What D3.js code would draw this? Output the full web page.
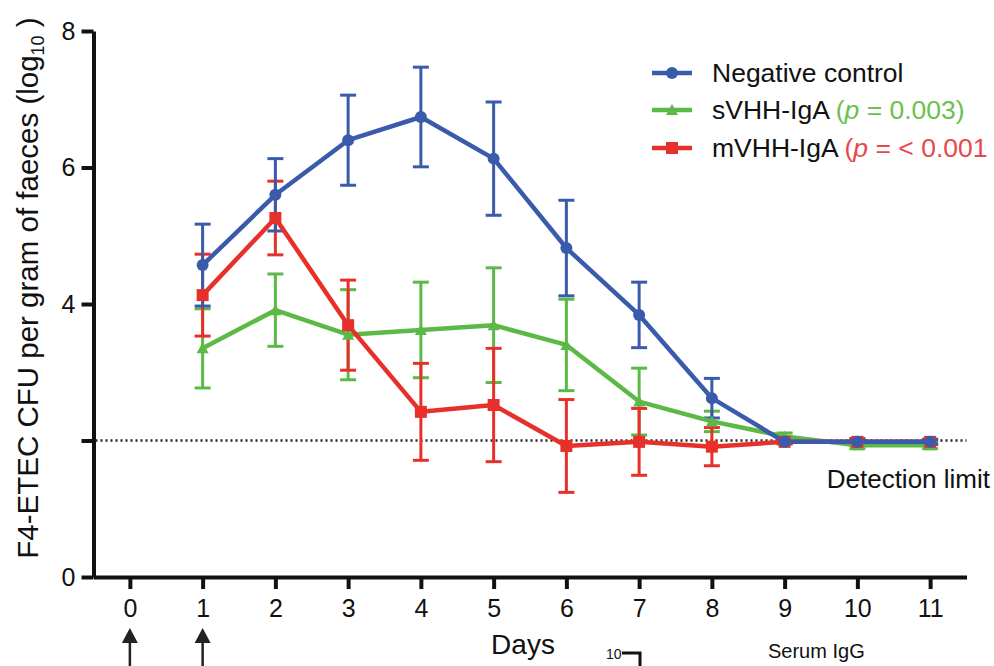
<!DOCTYPE html>
<html>
<head>
<meta charset="utf-8">
<script src="https://cdn.jsdelivr.net/npm/d3@7"></script>
<style>
  body { margin: 0; background: #fff; }
  svg { display: block; font-family: "Liberation Sans", Arial, Helvetica, sans-serif; }
</style>
</head>
<body>
<div id="chart"></div>
<script>
// days on the x axis
const days = [1, 2, 3, 4, 5, 6, 7, 8, 9, 10, 11];
const dayTicks = [0, 1, 2, 3, 4, 5, 6, 7, 8, 9, 10, 11];
const yTicks = [0, 2, 4, 6, 8];

// log10 CFU per gram, mean and error
const negMean = [4.57, 5.60, 6.40, 6.74, 6.13, 4.82, 3.84, 2.62, 1.98, 1.98, 1.98];
const negErr  = [0.60, 0.53, 0.66, 0.73, 0.83, 0.70, 0.48, 0.29, 0.02, 0.03, 0.03];
const sMean   = [3.35, 3.91, 3.55, 3.62, 3.69, 3.40, 2.57, 2.28, 2.06, 1.93, 1.93];
const sErr    = [0.58, 0.53, 0.66, 0.70, 0.84, 0.67, 0.49, 0.15, 0.05, 0.05, 0.05];
const mMean   = [4.13, 5.26, 3.69, 2.42, 2.52, 1.92, 1.98, 1.91, 1.98, 1.98, 1.98];
const mErr    = [0.60, 0.54, 0.66, 0.71, 0.83, 0.68, 0.49, 0.28, 0.03, 0.05, 0.04];

const detectionLimit = 2;

// p-value labels as printed (the red one runs into the figure edge in the source)
const series = [
  { name: "sVHH-IgA", pText: " = 0.003)", mean: sMean, err: sErr, color: "#5cb946", pColor: "#6cc04f", shape: "triangle" },
  { name: "mVHH-IgA", pText: " = < 0.001", mean: mMean, err: mErr, color: "#e8302a", pColor: "#e8474b", shape: "square" },
  { name: "Negative control", mean: negMean, err: negErr, color: "#3a5bab", shape: "circle" }
];

const W = 994, H = 666;
const svg = d3.select("#chart").append("svg").attr("width", W).attr("height", H);

const x = d3.scaleLinear().domain([-0.5, 11.5]).range([93.5, 966.5]);
const y = d3.scaleLinear().domain([0, 8]).range([577, 31]);

function styleAxis(g) {
  g.selectAll("path, line").attr("stroke", "#111").attr("stroke-width", 4);
  g.selectAll("text").attr("font-size", 25).attr("fill", "#111");
}

// axes
svg.append("g")
  .attr("transform", "translate(0,577)")
  .call(d3.axisBottom(x).tickValues(dayTicks).tickSize(12).tickSizeOuter(0).tickPadding(10))
  .call(styleAxis);

svg.append("g")
  .attr("transform", "translate(93.5,0)")
  .call(d3.axisLeft(y).tickValues(yTicks).tickSize(12).tickSizeOuter(0).tickPadding(6)
    .tickFormat(d => d === 2 ? "" : d))
  .call(styleAxis);

// detection limit
svg.append("line")
  .attr("x1", x(-0.5) + 2).attr("x2", x(11.5))
  .attr("y1", y(detectionLimit)).attr("y2", y(detectionLimit))
  .attr("stroke", "#222").attr("stroke-width", 2.5)
  .attr("stroke-dasharray", "2,3");

svg.append("text")
  .attr("x", 990).attr("y", 488)
  .attr("text-anchor", "end")
  .attr("font-size", 26)
  .attr("fill", "#111")
  .text("Detection limit");

// error bars
const capW = 8;
series.forEach(s => {
  const g = svg.append("g").attr("stroke", s.color).attr("stroke-width", 3).attr("fill", "none");
  days.forEach((d, i) => {
    const lo = y(s.mean[i] - s.err[i]), hi = y(s.mean[i] + s.err[i]);
    g.append("line").attr("x1", x(d)).attr("x2", x(d)).attr("y1", lo).attr("y2", hi);
    g.append("line").attr("x1", x(d) - capW).attr("x2", x(d) + capW).attr("y1", lo).attr("y2", lo);
    g.append("line").attr("x1", x(d) - capW).attr("x2", x(d) + capW).attr("y1", hi).attr("y2", hi);
  });
});

// lines
const line = d3.line().x(d => x(d[0])).y(d => y(d[1]));
series.forEach(s => {
  svg.append("path")
    .datum(days.map((d, i) => [d, s.mean[i]]))
    .attr("d", line)
    .attr("fill", "none")
    .attr("stroke", s.color)
    .attr("stroke-width", 4.5)
    .attr("stroke-linejoin", "round");
});

function marker(g, shape, cx, cy, color) {
  if (shape === "circle") {
    g.append("circle").attr("cx", cx).attr("cy", cy).attr("r", 6).attr("fill", color);
  } else if (shape === "square") {
    g.append("rect").attr("x", cx - 6).attr("y", cy - 6).attr("width", 12).attr("height", 12).attr("fill", color);
  } else {
    g.append("path").attr("d", `M${cx},${cy - 6}L${cx + 6},${cy + 5}L${cx - 6},${cy + 5}Z`).attr("fill", color);
  }
}

series.forEach(s => {
  const g = svg.append("g");
  days.forEach((d, i) => marker(g, s.shape, x(d), y(s.mean[i]), s.color));
});

// legend
const legendRows = [series[2], series[0], series[1]];
const legendY = [73, 110, 148];
legendRows.forEach((s, i) => {
  const ly = legendY[i];
  svg.append("line").attr("x1", 652).attr("x2", 692).attr("y1", ly).attr("y2", ly)
    .attr("stroke", s.color).attr("stroke-width", 4.5);
  marker(svg, s.shape, 672, ly, s.color);
  const t = svg.append("text").attr("x", 712).attr("y", ly + 9).attr("font-size", 26.5).attr("fill", "#111");
  t.append("tspan").text(s.name);
  if (s.pText) {
    t.append("tspan").attr("fill", s.pColor).text(" (");
    t.append("tspan").attr("fill", s.pColor).attr("font-style", "italic").text("p");
    t.append("tspan").attr("fill", s.pColor).text(s.pText);
  }
});

// axis titles
const yl = svg.append("text")
  .attr("transform", "translate(38,288) rotate(-90)")
  .attr("text-anchor", "middle")
  .attr("font-size", 29.5)
  .attr("fill", "#111");
yl.append("tspan").text("F4-ETEC CFU per gram of faeces (log");
yl.append("tspan").attr("font-size", 18).attr("dy", 6).text("10");
yl.append("tspan").attr("dy", -6).text(" )");

svg.append("text")
  .attr("x", 523).attr("y", 654)
  .attr("text-anchor", "middle")
  .attr("font-size", 28)
  .attr("fill", "#111")
  .text("Days");

// dosing arrows under day 0 and day 1
[0, 1].forEach(d => {
  const ax = x(d);
  svg.append("line").attr("x1", ax).attr("x2", ax).attr("y1", 640).attr("y2", 666)
    .attr("stroke", "#222").attr("stroke-width", 2.5);
  svg.append("path").attr("d", `M${ax},628L${ax + 8},643L${ax - 8},643Z`).attr("fill", "#222");
});

// start of the next panel, cut off at the bottom
svg.append("text").attr("x", 606).attr("y", 659).attr("font-size", 14).attr("fill", "#111").text("10");
svg.append("path").attr("d", "M622,653H640V666").attr("fill", "none").attr("stroke", "#111").attr("stroke-width", 3);
svg.append("text").attr("x", 768).attr("y", 658).attr("font-size", 20).attr("fill", "#111").text("Serum IgG");
</script>
</body>
</html>
